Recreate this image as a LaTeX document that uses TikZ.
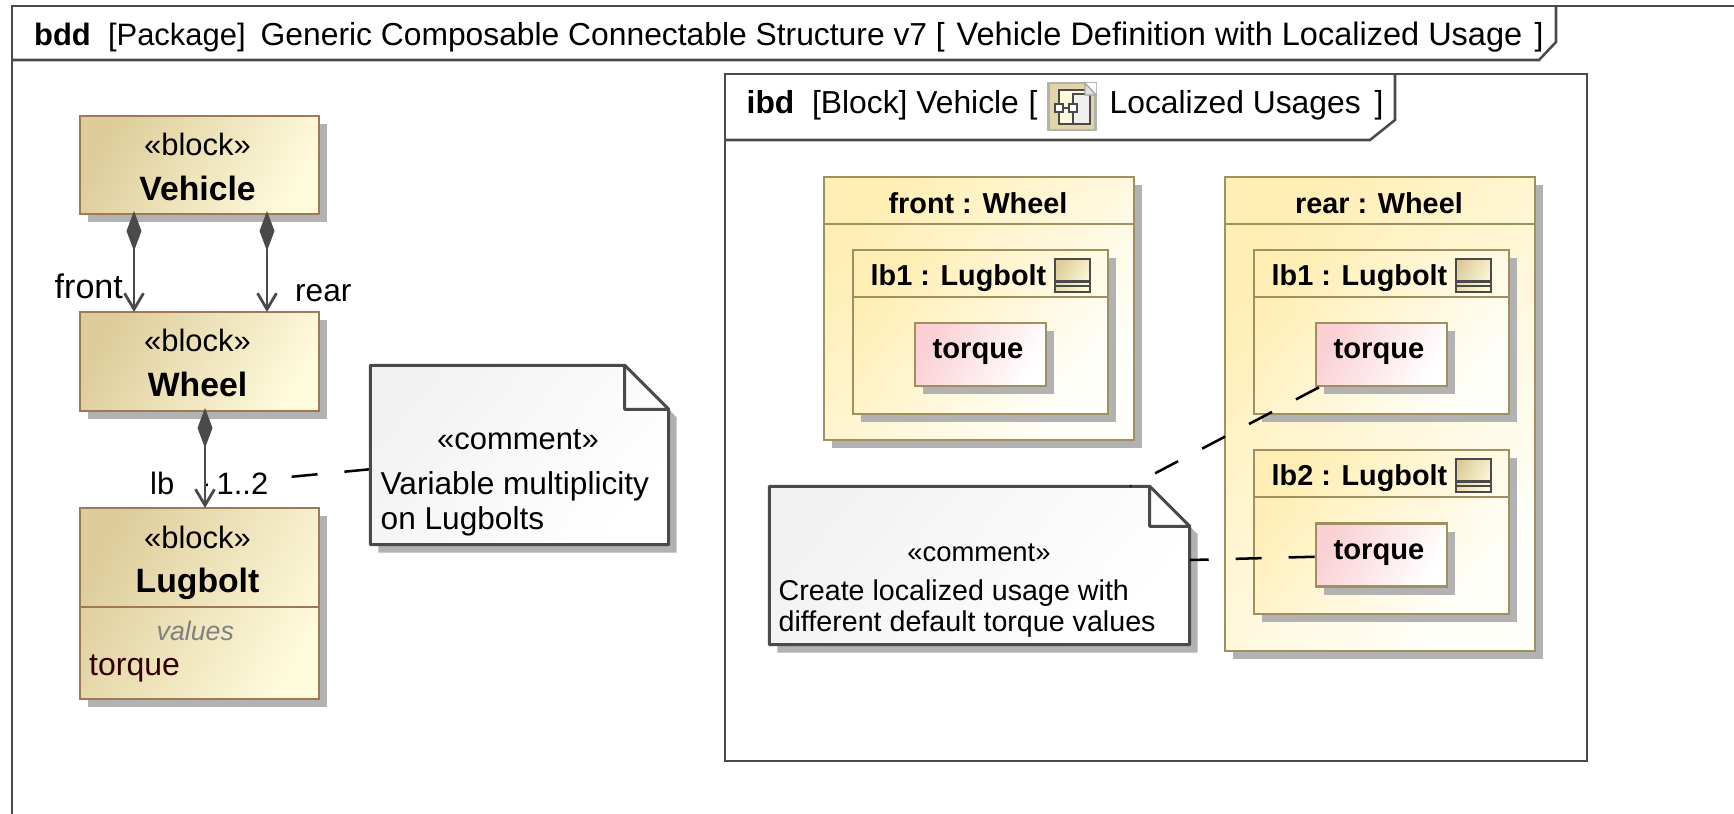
\documentclass[tikz,border=0pt]{standalone}
\usepackage{fontspec}
\setmainfont{Liberation Sans}
\usetikzlibrary{arrows.meta,shadows}
\definecolor{framegray}{RGB}{74,74,74}
\definecolor{shadowgray}{RGB}{178,178,178}
\definecolor{blockedge}{RGB}{156,122,88}
\definecolor{blockdark}{RGB}{222,205,155}
\definecolor{blocklight}{RGB}{254,250,220}
\definecolor{partedge}{RGB}{160,144,96}
\definecolor{partdark}{RGB}{255,238,180}
\definecolor{partlight}{RGB}{255,255,250}
\definecolor{valuedark}{RGB}{250,208,212}
\definecolor{notedark}{RGB}{242,242,242}
\tikzset{
  grayshadow/.style={drop shadow={shadow xshift=.08cm,shadow yshift=-.08cm,fill=shadowgray,opacity=1}},
  blockbox/.style={rectangle,draw=blockedge,line width=.75pt,left color=blockdark,right color=blocklight,shading angle=60,grayshadow,inner sep=0pt},
  blocktxt/.style={inner sep=0pt,align=center,font=\fontsize{8.8}{12.7}\selectfont},
  partbox/.style={rectangle,draw=partedge,line width=.75pt,left color=partdark,right color=partlight,shading angle=50,grayshadow,inner sep=0pt},
  valuebox/.style={partbox,left color=valuedark,right color=white,shading angle=60},
  txt/.style={inner sep=0pt,anchor=base west,font=\fontsize{8.8}{10}\selectfont},
  titletxt/.style={txt,font=\fontsize{9.05}{10}\selectfont},
  parttxt/.style={inner sep=0pt,anchor=base,font=\fontsize{8.2}{10}\selectfont\bfseries},
  whole/.style={{Diamond[length=.4cm,width=.15cm,fill=framegray]}-{Straight Barb[length=.16cm,width=.19cm]},draw=framegray,line width=.8pt},
  notelink/.style={black,line width=.72pt,dash pattern=on .26cm off .27cm},
  framelink/.style={draw=framegray,line width=.72pt}
}
% sheet of paper with a folded corner behind a named node
\newcommand{\notepaper}[2]{
  \fill[shadowgray,transform canvas={shift={(.08,.08)}}] (#1.north west)--([shift={(-#2,0)}]#1.north east)--([shift={(0,#2)}]#1.north east)--(#1.south east)--(#1.south west)--cycle;
  \shade[left color=notedark,right color=white,shading angle=50] (#1.north west)--([shift={(-#2,0)}]#1.north east)--([shift={(0,#2)}]#1.north east)--(#1.south east)--(#1.south west)--cycle;
  \draw[framelink,line join=round,line width=.85pt] (#1.north west)--([shift={(-#2,0)}]#1.north east)--([shift={(0,#2)}]#1.north east)--(#1.south east)--(#1.south west)--cycle
    ([shift={(-#2,0)}]#1.north east)--([shift={(-#2,#2)}]#1.north east)--([shift={(0,#2)}]#1.north east);
}
% little compartment icon of a part
\newcommand{\lugicon}[2]{
  \shade[left color=blockdark,right color=blocklight,shading angle=60] (#1,#2) rectangle ++(.35,.33);
  \draw[framegray,line width=.75pt] (#1,#2) rectangle ++(.35,.33) (#1,#2+.225)--++(.35,0) (#1,#2+.27)--++(.35,0);
}
\begin{document}
\begin{tikzpicture}[x=1cm,y=-1cm]
\useasboundingbox (0,0) rectangle (17.34,8.14);
\fill[white] (0,0) rectangle (17.34,8.14);

% outer frame
\draw[framelink] (.12,8.14)--(.12,.06)--(17.34,.06);
\draw[framelink] (.12,.6)--(15.39,.6)--(15.56,.42)--(15.56,.06);
\node[txt] (bddtitle) at (.335,.45) {\textbf{bdd}\ \ [Package]};
\node[titletxt] (bddname) at (2.6,.45) {Generic Composable Connectable Structure v7 [};
\node[titletxt,font=\fontsize{9.25}{10}\selectfont] (bddview) at (9.56,.45) {Vehicle Definition with Localized Usage};
\node[titletxt] (bddclose) at (15.34,.45) {]};

% blocks
\node[blockbox,minimum width=2.39cm,minimum height=.98cm] (vehicle) at (1.995,1.65) {};
\node[blocktxt] (vehiclename) at (1.975,1.67) {«block»\\{\fontsize{9.6}{12.7}\selectfont\bfseries Vehicle}};
\node[blockbox,minimum width=2.39cm,minimum height=.99cm] (wheel) at (1.995,3.615) {};
\node[blocktxt] (wheelname) at (1.975,3.63) {«block»\\{\fontsize{9.6}{12.7}\selectfont\bfseries Wheel}};
\node[blockbox,minimum width=2.39cm,minimum height=1.91cm] (lugbolt) at (1.995,6.035) {};
\node[blocktxt] (lugname) at (1.975,5.63) {«block»\\{\fontsize{9.6}{12.7}\selectfont\bfseries Lugbolt}};
\draw[blockedge,line width=.75pt] (lugbolt.west |- 0,6.07) coordinate (lugl) -- (lugbolt.east |- 0,6.07) coordinate (lugr);
\node[txt,font=\fontsize{7.6}{10}\selectfont\itshape,text=black!50] (lugvalues) at (1.56,6.40) {values};
\node[txt,font=\fontsize{9.1}{10}\selectfont,text={rgb,255:red,48;green,0;blue,0}] (lugtorque) at (.885,6.75) {torque};

% associations
\coordinate (frontup) at (1.34,2.11);
\coordinate (frontdown) at (1.34,3.12);
\coordinate (rearup) at (2.67,2.11);
\coordinate (reardown) at (2.67,3.12);
\coordinate (lbup) at (2.05,4.08);
\coordinate (lbdown) at (2.05,5.08);
\coordinate (lbmid) at (2.05,4.85);
\draw[whole] (frontup)--(frontdown);
\draw[whole] (rearup)--(reardown);
\node[txt,font=\fontsize{9.7}{10}\selectfont] (frontlabel) at (.54,2.98) {front};
\node[txt,font=\fontsize{9}{10}\selectfont] (rearlabel) at (2.945,3.01) {rear};
\node[txt] (lblabel) at (1.495,4.94) {lb};

% comment on the left
\node[minimum width=2.97cm,minimum height=1.78cm,inner sep=0pt] (varnote) at (5.195,4.55) {};
\draw[notelink] (varnote)--(lbmid);
\node[txt,fill=white,inner xsep=.09cm,inner ysep=.04cm] (multlabel) at (2.07,4.94) {1..2};
\draw[whole] (lbup)--(lbdown);
\notepaper{varnote}{.44}
\node[txt,anchor=base] (varstereo) at (5.18,4.49) {«comment»};
\node[txt,font=\fontsize{9}{10}\selectfont] (vartxta) at (3.8,4.94) {Variable multiplicity};
\node[txt,font=\fontsize{9}{10}\selectfont] (vartxtb) at (3.8,5.29) {on Lugbolts};

% inner frame
\draw[framelink] (7.25,.74) rectangle (15.87,7.61);
\draw[framelink] (7.25,1.4)--(13.7,1.4)--(13.95,1.2)--(13.95,.74);
\node[titletxt] (ibdtitle) at (7.46,1.13) {\textbf{ibd}\ \ [Block]\ Vehicle};
\node[titletxt] (ibdopen) at (10.28,1.13) {[};
\node[rectangle,draw=black!30,line width=.6pt,fill=blockdark!85,minimum width=.47cm,minimum height=.47cm,inner sep=0pt] (ibdicon) at (10.72,1.065) {};
\fill[blocklight] (10.58,.89) rectangle (10.9,1.25);
\draw[framegray,line width=.6pt] (10.59,1.04)--(10.59,.90)--(10.9,.90)--(10.9,1.24)--(10.59,1.24)--(10.59,1.12);
\draw[framegray,fill=black!6,line width=.6pt] (10.73,.94) rectangle (10.9,1.24);
\draw[framegray,fill=white,line width=.6pt] (10.55,1.04) rectangle (10.63,1.12) (10.69,1.04) rectangle (10.77,1.12);
\draw[framegray,line width=.6pt] (10.63,1.08)--(10.69,1.08);
\fill[white] (10.85,.83)--(10.96,.83)--(10.96,.95)--cycle;
\draw[black!35,fill=black!12,line width=.4pt] (10.85,.83)--(10.96,.95)--(10.85,.95)--cycle;
\node[titletxt] (ibdname) at (11.09,1.13) {Localized Usages};
\node[titletxt] (ibdclose) at (13.74,1.13) {]};

% front wheel
\node[partbox,minimum width=3.1cm,minimum height=2.63cm] (frontwheel) at (9.79,3.085) {};
\draw[partedge,line width=.75pt] (frontwheel.west |- 0,2.24)--(frontwheel.east |- 0,2.24);
\node[parttxt] (frontname) at (9.78,2.13) {front : Wheel};
\node[partbox,minimum width=2.55cm,minimum height=1.64cm] (frontlb) at (9.805,3.32) {};
\draw[partedge,line width=.75pt] (frontlb.west |- 0,2.97)--(frontlb.east |- 0,2.97);
\node[parttxt,anchor=base west] (frontlbname) at (8.7,2.85) {lb1 : Lugbolt};
\lugicon{10.55}{2.59}
\node[valuebox,minimum width=1.31cm,minimum height=.63cm] (fronttorque) at (9.805,3.545) {};
\node[parttxt,font=\fontsize{8.3}{10}\selectfont\bfseries] (fronttorquetxt) at (9.78,3.58) {torque};

% rear wheel
\node[partbox,minimum width=3.1cm,minimum height=4.74cm] (rearwheel) at (13.8,4.14) {};
\draw[partedge,line width=.75pt] (rearwheel.west |- 0,2.24)--(rearwheel.east |- 0,2.24);
\node[parttxt] (rearname) at (13.79,2.13) {rear : Wheel};
\node[partbox,minimum width=2.55cm,minimum height=1.64cm] (rearlba) at (13.815,3.32) {};
\draw[partedge,line width=.75pt] (rearlba.west |- 0,2.97)--(rearlba.east |- 0,2.97);
\node[parttxt,anchor=base west] (rearlbaname) at (12.71,2.85) {lb1 : Lugbolt};
\lugicon{14.56}{2.59}
\node[valuebox,minimum width=1.31cm,minimum height=.63cm] (reartorquea) at (13.815,3.545) {};
\node[parttxt,font=\fontsize{8.3}{10}\selectfont\bfseries] (reartorqueatxt) at (13.79,3.58) {torque};
\node[partbox,minimum width=2.55cm,minimum height=1.64cm] (rearlbb) at (13.815,5.32) {};
\draw[partedge,line width=.75pt] (rearlbb.west |- 0,4.97)--(rearlbb.east |- 0,4.97);
\node[parttxt,anchor=base west] (rearlbbname) at (12.71,4.85) {lb2 : Lugbolt};
\lugicon{14.56}{4.59}
\node[valuebox,minimum width=1.31cm,minimum height=.63cm] (reartorqueb) at (13.815,5.55) {};
\node[parttxt,font=\fontsize{8.3}{10}\selectfont\bfseries] (reartorquebtxt) at (13.79,5.59) {torque};

% comment on the right
\node[minimum width=4.19cm,minimum height=1.57cm,inner sep=0pt] (usenote) at (9.795,5.655) {};
\notepaper{usenote}{.4}
\node[txt,anchor=base,font=\fontsize{7.8}{10}\selectfont] (usestereo) at (9.79,5.61) {«comment»};
\node[txt,font=\fontsize{8.15}{10}\selectfont] (usetxta) at (7.78,6) {Create localized usage with};
\node[txt,font=\fontsize{8.15}{10}\selectfont] (usetxtb) at (7.78,6.31) {different default torque values};
\draw[notelink] (reartorquea)--(usenote);
\draw[notelink] (reartorqueb)--(usenote);
\end{tikzpicture}
\end{document}
